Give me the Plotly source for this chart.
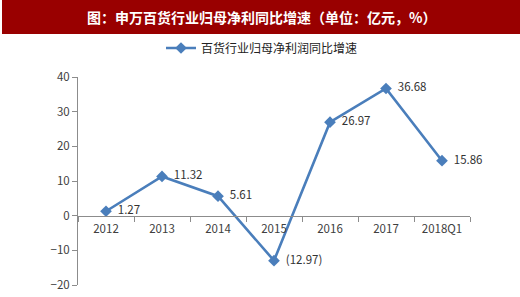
import plotly.graph_objects as go

categories = ["2012", "2013", "2014", "2015", "2016", "2017", "2018Q1"]
values = [1.27, 11.32, 5.61, -12.97, 26.97, 36.68, 15.86]
y_ticks = [-20, -10, 0, 10, 20, 30, 40]
series_name = "百货行业归母净利润同比增速"
title_text = "图：申万百货行业归母净利同比增速（单位：亿元，%）"

labels = ["\u00a0\u00a0" + (f"({abs(v):.2f})" if v < 0 else f"{v:.2f}") for v in values]

W, H = 520, 297
L, R, T, B = 78, 50, 77, 12
pw, ph = W - L - R, H - T - B

def px_x(x):
    return (x - L) / pw

def px_y(y):
    return (H - B - y) / ph

font = "Noto Sans CJK SC, DejaVu Sans, sans-serif"

fig = go.Figure()
fig.add_trace(go.Scatter(
    x=categories, y=values, mode="lines+markers+text",
    name=series_name, cliponaxis=False,
    line=dict(color="#4A7EBB", width=2.6),
    marker=dict(symbol="diamond", size=9, color="#4A7EBB"),
    text=labels, textposition="middle right",
    textfont=dict(size=11.5, color="#333333", family=font),
))

fig.update_layout(
    width=W, height=H,
    margin=dict(l=L, r=R, t=T, b=B, autoexpand=False),
    paper_bgcolor="white", plot_bgcolor="white",
    font=dict(family=font, size=11, color="#404040"),
    showlegend=True,
    legend=dict(orientation="h", x=px_x(262), xanchor="center",
                y=px_y(48), yanchor="middle",
                font=dict(size=12, color="#222222"),
                bgcolor="rgba(0,0,0,0)"),
    xaxis=dict(type="category", range=[-0.5, 6.5], anchor="free",
               position=1/3, showline=True, linecolor="#8C8C8C", linewidth=1,
               ticks="outside", tickson="boundaries", ticklen=5,
               tickcolor="#8C8C8C", showgrid=False, zeroline=False,
               automargin=False, ticklabelstandoff=3,
               tickfont=dict(size=11.5, color="#404040")),
    yaxis=dict(range=[-20, 40], tickvals=y_ticks, showline=True,
               linecolor="#8C8C8C", linewidth=1, ticks="outside", ticklen=5,
               tickcolor="#8C8C8C", showgrid=False, zeroline=False,
               automargin=False,
               tickfont=dict(size=11.5, color="#404040")),
    shapes=[dict(type="rect", xref="paper", yref="paper",
                 x0=px_x(2), x1=px_x(520), y0=px_y(34), y1=px_y(0),
                 fillcolor="#990000", line=dict(width=0), layer="below")],
    annotations=[dict(text="<b>" + title_text + "</b>", xref="paper", yref="paper",
                      x=px_x(261), y=px_y(17), xanchor="center", yanchor="middle",
                      showarrow=False,
                      font=dict(size=14, color="white", family=font))],
)

fig.write_html("out.html")
